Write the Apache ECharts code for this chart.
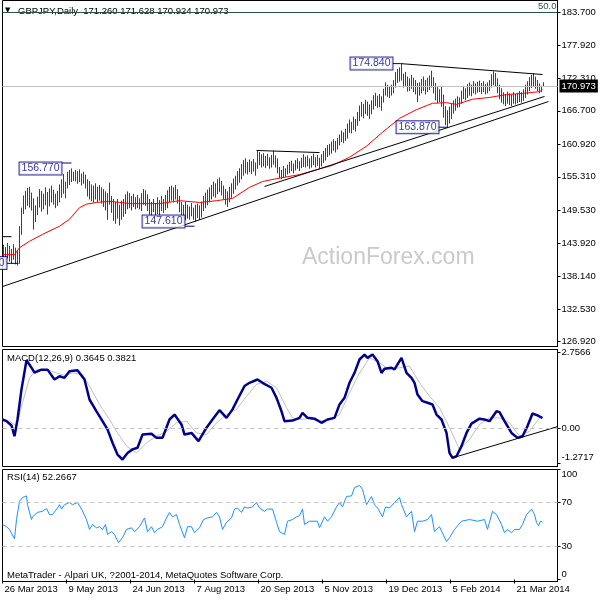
<!DOCTYPE html>
<html><head><meta charset="utf-8">
<script src="https://cdn.jsdelivr.net/npm/echarts/dist/echarts.min.js"></script>
<style>html,body{margin:0;padding:0;background:#fff}#c{width:600px;height:600px}</style>
</head><body><div id="c"></div>
<script>
const FONT = 'Liberation Sans';
const dateLabels = ['26 Mar 2013','9 May 2013','24 Jun 2013','7 Aug 2013','20 Sep 2013','5 Nov 2013','19 Dec 2013','5 Feb 2014','21 Mar 2014'];
const priceTicks = [183.7,177.92,172.31,166.7,160.92,155.31,149.53,143.92,138.14,132.53,126.92];
const macdTicks = [-1.2717,0,2.7566];
const rsiTicks = [0,30,70,100];

const barHigh = [
143.6,143.2,143.9,143.4,142.9,143.7,143.1,142.6,146.8,150.0,
152.1,152.9,153.4,153.6,152.6,151.6,150.4,151.9,153.2,152.9,
152.4,153.5,152.7,153.3,153.8,153.1,152.4,152.9,154.0,154.9,
155.8,154.5,156.2,156.5,156.77,156.2,156.5,156.3,156.6,155.9,
156.2,155.7,154.9,154.6,154.0,153.8,154.2,153.6,153.9,153.5,
153.2,152.8,152.5,154.3,152.0,151.5,151.0,151.5,150.5,151.2,
151.5,152.3,152.8,152.5,152.0,152.4,151.8,152.2,151.6,152.5,
153.2,153.0,152.3,151.5,151.0,151.5,150.8,151.8,151.3,152.0,
151.5,152.2,153.0,153.6,153.8,153.5,153.9,153.2,152.0,151.0,
150.5,151.0,150.5,150.2,150.8,150.0,150.5,150.7,150.4,151.0,
152.0,152.6,153.1,153.5,153.9,154.5,154.2,154.9,155.2,154.6,
153.8,153.2,152.8,153.6,154.2,155.0,155.5,156.3,156.8,157.5,
158.2,158.5,157.9,158.3,158.0,158.4,157.8,159.9,159.6,159.2,
159.4,158.9,159.3,158.7,159.1,159.8,159.0,158.5,157.0,156.5,
157.2,156.8,157.4,157.9,158.1,157.6,158.2,158.5,158.0,158.6,
159.2,158.8,159.0,158.5,158.9,159.3,158.7,159.1,158.6,159.2,
159.8,160.3,160.8,161.0,161.4,161.8,161.5,162.0,162.6,163.3,
163.0,163.6,164.5,165.2,164.8,165.7,165.3,166.5,167.6,168.2,
167.9,168.6,168.3,167.8,168.5,169.4,169.8,169.3,169.6,169.2,
170.5,171.6,171.2,170.9,171.2,172.0,173.4,173.9,174.2,174.84,
173.1,173.4,172.6,172.3,172.9,172.4,172.0,171.5,171.6,172.2,
172.6,172.0,172.4,172.8,173.6,172.5,171.5,170.8,170.4,171.0,
169.5,167.5,166.8,167.4,168.0,168.5,168.8,169.2,169.0,170.2,
171.0,170.6,171.3,171.6,171.2,171.8,171.4,171.7,171.9,171.5,
171.8,171.3,171.6,172.0,173.0,173.5,173.2,172.3,171.2,170.6,
169.9,169.6,170.0,169.7,169.5,169.9,169.6,169.8,170.1,169.9,
170.4,171.2,171.8,172.5,172.9,173.2,172.6,172.0,171.4,171.0,
171.628];
const barLow = [
141.0,140.7,141.3,140.8,140.4,141.1,140.3,140.1,140.4,145.4,
149.0,149.8,150.4,150.1,149.6,146.3,147.6,148.8,150.1,149.4,
149.8,150.5,148.9,150.3,151.0,150.6,150.0,150.4,151.0,151.8,
152.5,151.7,153.4,154.0,154.5,154.7,154.6,154.2,154.5,153.9,
154.2,153.4,152.0,151.5,151.2,151.0,151.5,151.0,151.3,150.8,
150.2,149.6,148.0,150.6,149.2,147.8,147.3,148.2,147.0,148.0,
148.5,149.0,149.8,150.0,149.6,150.2,149.8,150.0,149.8,149.5,
150.6,150.4,149.5,148.8,148.6,149.3,148.7,149.0,148.5,149.5,
149.2,149.7,150.0,151.0,151.3,151.0,151.5,150.8,149.3,148.8,
148.3,147.9,148.2,148.0,148.6,148.0,147.61,148.3,148.0,148.4,
149.5,150.0,150.5,151.0,151.5,152.0,151.8,152.4,152.8,152.2,
151.6,150.6,150.2,151.0,151.8,152.5,153.2,153.9,154.4,155.0,
155.6,156.0,155.8,156.2,155.9,156.3,155.6,156.8,157.4,157.0,
157.2,156.9,157.3,156.8,157.0,157.5,157.0,156.0,155.2,155.0,
155.3,155.4,155.8,156.0,156.4,156.0,156.5,156.8,156.4,156.9,
157.1,157.0,157.2,156.8,157.0,157.4,157.0,157.3,156.9,157.2,
157.8,158.2,158.8,159.1,159.4,159.9,159.6,160.1,160.8,161.4,
161.2,161.6,162.0,163.0,162.9,163.5,163.2,164.2,165.0,165.8,
165.5,166.2,165.9,165.4,166.2,167.0,167.6,167.3,167.4,166.8,
168.2,169.4,169.2,169.0,169.4,169.8,170.8,171.6,171.8,172.0,
170.8,171.0,170.1,170.2,170.6,170.0,169.6,168.3,169.4,169.8,
170.2,169.6,170.0,170.4,170.8,169.8,168.6,168.1,168.3,167.5,
165.6,164.3,163.87,164.6,165.4,166.3,166.8,167.3,167.4,168.0,
168.8,168.6,169.0,169.4,169.3,169.8,169.6,169.9,170.0,169.7,
170.0,169.6,169.8,170.2,170.8,171.2,170.9,169.8,168.8,168.2,
167.9,167.6,168.0,167.8,167.6,168.0,167.9,168.1,168.3,168.2,
168.5,169.0,169.6,170.2,170.7,171.0,170.6,170.2,169.8,170.0,
170.924];

const maPoints = [[0,141.9],[6,141.9],[8.5,143.1],[13.5,144.2],[20,145.4],[28.5,146.8],[33.5,148.0],[38.5,150.0],[42,150.6],[47,150.9],[53.5,151.1],[58.5,150.9],[65,150.7],[78.5,150.7],[88.5,151.2],[98.5,150.9],[107,151.2],[115,151.6],[123.5,153.5],[130,154.5],[137,155.0],[148.5,155.7],[165,157.3],[173.5,158.7],[182,160.6],[190,163.0],[198.5,165.4],[207,166.9],[215,168.0],[222,168.1],[227,167.8],[235,168.7],[243.5,169.0],[252,169.5],[260,169.7],[268.5,170.0],[270,170.4]];

const trendLines = [
  [[0,136.4],[273,168.3]],
  [[131,153.65],[271,169.17]],
  [[199,174.84],[270,172.96]],
  [[127,159.86],[158.5,159.5]],
  [[0,145.0],[4.5,145.0]]
];
const priceNotes = [[195,174.84,'174.840'],[218,163.87,'163.870'],[29.5,156.77,'156.770'],[91,147.61,'147.610'],[2,140.46,'140.460']];
const noteLeaders = [
  [[195,174.84],[199,174.84]],
  [[218,163.87],[222.5,163.87]],
  [[29.5,157.7],[34.5,157.7]],
  [[91,146.8],[96,146.8]],
  [[2,140.4],[8,140.4]]
];
const lastPrice = 170.973;
const fibLevel = 183.7;

const macdPoints = [[0,0.31],[2,0.25],[4.5,0.09],[6,-0.3],[7.5,0.31],[9.5,1.41],[12,2.47],[14.5,2.2],[16,2.02],[19.5,2.13],[22.5,2.13],[26,1.77],[28.5,1.89],[31,1.83],[33.5,2.07],[37.5,2.11],[41,1.77],[43.5,1.04],[47,0.61],[50,0.25],[52.5,-0.05],[55,-0.54],[57.5,-0.97],[60,-1.15],[62.5,-0.91],[65,-0.78],[67.5,-0.72],[70,-0.24],[74.5,-0.21],[77,-0.36],[80,-0.36],[83.5,0.31],[86,0.49],[89.5,0.13],[91,-0.24],[94.5,-0.18],[98,-0.48],[102,0.01],[105,0.31],[108.5,0.65],[112,0.37],[115,0.68],[117.5,1.04],[121,1.53],[123.5,1.65],[127.5,1.77],[130,1.65],[134.5,1.47],[137,1.1],[139.5,0.61],[141,0.25],[145,0.27],[148.5,0.37],[150,0.55],[152.5,0.37],[156,0.34],[159.5,0.19],[162.5,0.31],[166,0.37],[168.5,0.86],[171,1.1],[173.5,1.65],[176,2.01],[178.5,2.5],[181,2.68],[182.5,2.56],[185,2.68],[187.5,2.44],[189.5,2.01],[191,2.16],[194.5,2.2],[196,2.14],[199.5,2.56],[202,2.01],[204.5,1.83],[206,1.65],[207.5,1.22],[210,0.98],[212.5,0.92],[215,0.86],[217,0.49],[219.5,0.31],[222,-0.18],[223.5,-0.91],[225,-1.09],[227,-1.03],[229.5,-0.66],[232,-0.18],[234.5,0.16],[238.5,0.34],[241,0.31],[243.5,0.25],[247,0.61],[248.5,0.58],[251,0.25],[254.5,-0.18],[257.5,-0.36],[260,-0.3],[262.5,0.07],[265,0.53],[267.5,0.46],[270,0.3645]];
const signalPoints = [[0,0.31],[3.5,0.25],[7,0.07],[10,0.92],[13.5,1.83],[17,2.13],[22,2.13],[27,2.01],[31,1.92],[35,2.01],[40,1.95],[43.5,1.53],[48.5,0.86],[53.5,0.31],[57.5,-0.18],[62,-0.66],[67,-0.91],[72,-0.54],[77,-0.3],[82,-0.12],[87,0.19],[92,0.25],[97,-0.18],[102,-0.24],[107,0.19],[112,0.49],[117,0.68],[122,1.16],[127,1.59],[132,1.71],[137,1.47],[142,0.74],[145,0.37],[148.5,0.31],[153.5,0.34],[158.5,0.25],[163.5,0.31],[168.5,0.49],[173.5,1.28],[178.5,2.01],[183.5,2.56],[188.5,2.38],[193.5,2.13],[198.5,2.2],[203.5,2.26],[208.5,1.65],[213.5,1.16],[218.5,0.74],[223.5,0.01],[228.5,-0.78],[233.5,-0.42],[238.5,0.13],[243.5,0.37],[248.5,0.37],[253.5,0.19],[258.5,-0.3],[263.5,-0.12],[268.5,0.37],[270,0.3821]];
const macdTrend = [[225,-1.09],[277.5,0.05]];

const rsiPoints = [[0,50],[2,48],[3.5,45.5],[6,37],[7,54.5],[8.5,71],[10,74.5],[12,76],[12.5,68],[14.5,54.5],[15,57],[17.5,61],[20,62],[22,64.5],[23.5,59],[25,59],[27.5,65],[28.5,68],[29.5,64],[31,68],[33.5,70],[35,68],[37.5,70],[39.5,64],[42,54.5],[43.5,45.5],[45,50],[47,47],[48.5,48],[50,45.5],[51.5,50],[52.5,41],[54.5,43.5],[56,41],[58,33.5],[60,38],[62,45.5],[64.5,47],[66,43.5],[68.5,48],[71,56],[72.5,43.5],[74.5,48],[76,42.5],[77.5,45.5],[80,48],[82,56],[83.5,61],[85,57],[87,59],[88.5,50],[91,38],[92.5,48],[94.5,48],[96,42.5],[98.5,47],[100.5,54.5],[102.5,56],[105,57],[107,61],[108.5,57],[110,45.5],[112,52],[114.5,56],[116,64],[117.5,65],[119.5,61],[121,66],[122.5,65],[125,66],[127,70],[128.5,65],[131,62],[132.5,64],[135,64],[137,52],[138.5,43.5],[141,41],[142.5,53],[145,54.5],[147,57],[148.5,58],[150,64],[151,50],[153.5,53],[157.5,53],[158.5,47],[161,57],[162.5,53],[164.5,57],[167,66],[168.5,70],[170,66],[172,75.5],[174.5,76],[176,83.5],[178.5,85.5],[180,82],[182,68],[184.5,75.5],[186,68],[187.5,65],[190,57],[191.5,66],[193.5,65],[196,70],[198.5,74.5],[199.5,68],[202,57],[204.5,62],[206,43.5],[207.5,53],[210,53],[212.5,54.5],[214.5,59],[216,43.5],[218.5,48],[222,34.5],[223.5,38],[226,45.5],[229.5,53],[233.5,54.5],[237.5,53],[241,54.5],[242.5,45.5],[245,62],[247,59],[249.5,50],[251,42.5],[252.5,45.5],[254.5,42.5],[256,45.5],[258.5,45.5],[260,50],[262,59],[264.5,64],[266,59],[267,52],[268,49],[269,53],[270,52.27]];

const chart = echarts.init(document.getElementById('c'), null, {renderer:'canvas'});
const txt = {fontFamily: FONT, fontSize: 9.5, color: '#000'};
function xAxisFor(g){
  return {type:'value', gridIndex:g, min:0, max:277.5, interval:32, show:true,
    axisLine:{show:false}, splitLine:{show:false},
    axisTick:{show:g===2, length:4, lineStyle:{color:'#000'}},
    axisLabel:{show:g===2, ...txt, align:'left', margin:3, padding:[0,0,0,2],
      showMaxLabel:false, formatter:v=>dateLabels[Math.round(v/32)]||''}};
}
const thin = {color:'#000', width:1};
const series = [];
series.push({type:'custom', xAxisIndex:0, yAxisIndex:0, clip:true,
  data: barHigh.map((h,i)=>[i, barLow[i], h]),
  encode:{x:0, y:[1,2]},
  renderItem:(params, api)=>{
    const lo = api.coord([api.value(0), api.value(1)]);
    const hi = api.coord([api.value(0), api.value(2)]);
    const x = Math.round(lo[0]) + 0.5;
    return {type:'line', shape:{x1:x, y1:lo[1]+0.5, x2:x, y2:hi[1]}, style:{stroke:'#1a4a6c', lineWidth:1}};
  }});
series.push({type:'line', xAxisIndex:0, yAxisIndex:0, data:maPoints, showSymbol:false, symbol:'none',
  lineStyle:{color:'#ff0000', width:1}, z:3,
  markLine:{silent:true, symbol:['none','none'], animation:false,
    data:[
      {yAxis:lastPrice, lineStyle:{color:'#c0c0c0', type:'solid', width:1},
        label:{show:true, position:'end', distance:2, formatter:lastPrice.toFixed(3), ...txt, color:'#fff', backgroundColor:'#000', padding:[2,2,1,2]}},
      {yAxis:fibLevel, lineStyle:{color:'#2f4f4f', type:'solid', width:1},
        label:{show:true, position:'insideEndTop', distance:1, formatter:'50.0', ...txt, color:'#2f4f4f'}}
    ]}});
trendLines.forEach(tl=>series.push({type:'line', xAxisIndex:0, yAxisIndex:0, data:tl, symbol:'none', lineStyle:thin, z:4}));
noteLeaders.forEach(tl=>series.push({type:'line', xAxisIndex:0, yAxisIndex:0, data:tl, symbol:'none', lineStyle:{color:'#00007f', width:1}, z:5}));
series.push({type:'scatter', xAxisIndex:0, yAxisIndex:0, symbolSize:0, z:6,
  data: priceNotes.map(n=>({value:[n[0], n[1]], name:n[2]})),
  label:{show:true, position:'left', distance:0, formatter:'{b}', fontFamily:FONT, fontSize:10.5, color:'#00007f',
    backgroundColor:'#fff', borderColor:'#00007f', borderWidth:1, padding:[1,2,0,2], lineHeight:11}});
// MACD
series.push({type:'line', xAxisIndex:1, yAxisIndex:1, data:signalPoints, symbol:'none', lineStyle:{color:'#c0c0c0', width:1}, z:2,
  markLine:{silent:true, symbol:['none','none'], label:{show:false}, data:[{yAxis:0}], lineStyle:{color:'#c0c0c0', type:[4,4], width:1}}});
series.push({type:'line', xAxisIndex:1, yAxisIndex:1, data:macdPoints, symbol:'none', lineStyle:{color:'#00008b', width:2.5}, z:3});
series.push({type:'line', xAxisIndex:1, yAxisIndex:1, data:macdTrend, symbol:'none', lineStyle:thin, z:4});
// RSI
series.push({type:'line', xAxisIndex:2, yAxisIndex:2, data:rsiPoints, symbol:'none', lineStyle:{color:'#1e90ff', width:1}, z:3,
  markLine:{silent:true, symbol:['none','none'], label:{show:false}, data:[{yAxis:70},{yAxis:30}], lineStyle:{color:'#c0c0c0', type:[4,4], width:1}}});

const yCommon = {type:'value', position:'right', splitLine:{show:false},
  axisLine:{show:true, onZero:false, lineStyle:{color:'#000'}}};
chart.setOption({
  animation:false,
  backgroundColor:'#fff',
  grid:[
    {left:2.5, top:0.5, width:555, height:346, show:true, borderColor:'#000', borderWidth:1, outerBoundsMode:'none'},
    {left:2.5, top:349.5, width:555, height:117, show:true, borderColor:'#000', borderWidth:1, outerBoundsMode:'none'},
    {left:2.5, top:469.5, width:555, height:112, show:true, borderColor:'#000', borderWidth:1, outerBoundsMode:'none'}
  ],
  xAxis:[xAxisFor(0), xAxisFor(1), xAxisFor(2)],
  yAxis:[
    {...yCommon, gridIndex:0, min:126.06, max:185.72,
      axisTick:{show:true, length:3, customValues:priceTicks, lineStyle:{color:'#000'}},
      axisLabel:{...txt, margin:4, customValues:priceTicks, formatter:v=>v.toFixed(3)}},
    {...yCommon, gridIndex:1, min:-1.405, max:2.865,
      axisTick:{show:true, length:3, customValues:macdTicks, lineStyle:{color:'#000'}},
      axisLabel:{...txt, margin:4, customValues:macdTicks, verticalAlignMinLabel:'bottom',
        formatter:v=>v===0?'0.00':v.toFixed(4)}},
    {...yCommon, gridIndex:2, min:-1.8, max:100,
      axisTick:{show:true, length:3, customValues:rsiTicks, lineStyle:{color:'#000'}},
      axisLabel:{...txt, margin:4, customValues:rsiTicks, verticalAlignMinLabel:'bottom', verticalAlignMaxLabel:'top',
        formatter:v=>String(v)}}
  ],
  graphic:[
    {type:'text', left:302, top:246, z:-1, silent:true, style:{text:'ActionForex.com', font:'23px "Liberation Sans"', fill:'#cacaca'}},
    {type:'text', left:5, top:7, style:{text:'\u25BC', font:'7px "DejaVu Sans"', fill:'#000'}},
    {type:'text', left:18, top:6, style:{text:'GBPJPY,Daily  171.260 171.628 170.924 170.973', font:'9.5px "Liberation Sans"', fill:'#000'}},
    {type:'text', left:7, top:353, style:{text:'MACD(12,26,9) 0.3645 0.3821', font:'9.5px "Liberation Sans"', fill:'#000'}},
    {type:'text', left:7, top:472, style:{text:'RSI(14) 52.2667', font:'9.5px "Liberation Sans"', fill:'#000'}},
    {type:'text', left:7, top:570, style:{text:'MetaTrader - Alpari UK, ?2001-2014, MetaQuotes Software Corp.', font:'9.5px "Liberation Sans"', fill:'#000'}}
  ],
  series
});
</script></body></html>
